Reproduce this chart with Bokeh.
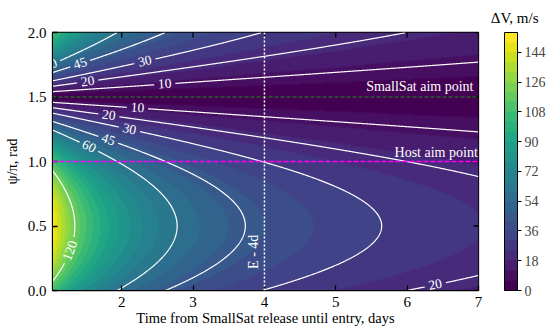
import numpy as np
import contourpy
from bokeh.plotting import figure
from bokeh.models import (ColorBar, FixedTicker, Span, Label, Range1d, Title,
                          LinearColorMapper, PrintfTickFormatter)
from bokeh.palettes import Viridis256
from bokeh.embed import file_html
from bokeh.resources import INLINE
from bokeh.core.properties import value

FONT = "Liberation Serif"

# ---------------- data ----------------
t_start, t_end = 1.03, 7.0          # days
psi_start, psi_end = 0.0, 2.0       # psi/pi
dv_scale = 172.0                    # m/s*day (from contour apexes at psi=0.5)
dv_t_offset = 0.09                  # day
smallsat_aim = 1.5
host_aim = 1.0
release_day = 4.0
fill_levels = list(range(0, 157, 6))
line_levels = [10, 20, 30, 45, 60, 120]
cbar_ticks = [0, 18, 36, 54, 72, 90, 108, 126, 144]
x_ticks = [2, 3, 4, 5, 6, 7]
y_ticks = [0.0, 0.5, 1.0, 1.5, 2.0]
label_levels = [60, 45, 30, 20, 10, 10, 20, 30, 45, 60, 120, 20]
label_t = [0.96, 1.41, 2.32, 1.52, 2.60, 2.22, 1.82, 2.11, 1.82, 1.54, 1.27, 6.39]
label_psi = [1.80, 1.78, 1.80, 1.64, 1.62, 1.43, 1.37, 1.26, 1.18, 1.12, 0.31, 0.057]

# ---------------- field ----------------
g_t0 = 0.9
nt, npsi = 700, 500
t_edges = np.linspace(g_t0, t_end, nt + 1)
p_edges = np.linspace(psi_start, psi_end, npsi + 1)
tc = 0.5 * (t_edges[1:] + t_edges[:-1])
pc = 0.5 * (p_edges[1:] + p_edges[:-1])
T, P = np.meshgrid(tc, pc)
DV = dv_scale * np.abs(np.sin((P - smallsat_aim) * np.pi / 2)) / (T + dv_t_offset)

nb = len(fill_levels) - 1
palette = [Viridis256[int(round(i * 255 / (nb - 1)))] for i in range(nb)]
mapper = LinearColorMapper(palette=palette, low=fill_levels[0], high=fill_levels[-1])

FW, FH = 426, 258
pxt = FW / (t_end - t_start)
pxp = FH / (psi_end - psi_start)

p = figure(frame_width=FW, frame_height=FH, output_backend="svg", toolbar_location=None,
           x_range=Range1d(t_start, t_end), y_range=Range1d(psi_start, psi_end),
           min_border_left=43, min_border_right=66, min_border_top=32, min_border_bottom=38)
p.grid.visible = False
p.outline_line_color = "black"
p.outline_line_width = 1.3
p.background_fill_color = None

p.image(image=[DV], x=g_t0, y=psi_start, dw=t_end - g_t0, dh=psi_end - psi_start,
        color_mapper=mapper)

# ---------------- contour lines with label gaps ----------------
gen = contourpy.contour_generator(T, P, DV, line_type="Separate")
lines_by_level = {lev: gen.lines(lev) for lev in line_levels}
cuts = {lev: [] for lev in line_levels}
lab_x, lab_y, lab_a, lab_txt = [], [], [], []
LFS = 13.5
for lev, lt, lp in zip(label_levels, label_t, label_psi):
    best = None
    for seg in lines_by_level[lev]:
        d = ((seg[:, 0] - lt) * pxt) ** 2 + ((seg[:, 1] - lp) * pxp) ** 2
        i = int(np.argmin(d))
        if best is None or d[i] < best[0]:
            best = (d[i], seg, i)
    _, seg, i = best
    x0, y0 = seg[i]
    j0, j1 = max(i - 4, 0), min(i + 4, len(seg) - 1)
    dx = (seg[j1, 0] - seg[j0, 0]) * pxt
    dy = (seg[j1, 1] - seg[j0, 1]) * pxp
    a = np.arctan2(dy, dx)
    if a > np.pi / 2:
        a -= np.pi
    if a < -np.pi / 2:
        a += np.pi
    txt = str(lev)
    r = len(txt) * 0.5 * LFS / 2 + 3.5
    cuts[lev].append((x0, y0, r))
    lab_x.append(x0); lab_y.append(y0); lab_a.append(a); lab_txt.append(txt)

mxs, mys = [], []
for lev in line_levels:
    for seg in lines_by_level[lev]:
        keep = np.ones(len(seg), bool)
        for (cx, cy, r) in cuts[lev]:
            d = np.hypot((seg[:, 0] - cx) * pxt, (seg[:, 1] - cy) * pxp)
            keep &= d > r
        idx = np.flatnonzero(keep)
        if len(idx) == 0:
            continue
        breaks = np.flatnonzero(np.diff(idx) > 1)
        starts = np.concatenate([[0], breaks + 1])
        ends = np.concatenate([breaks + 1, [len(idx)]])
        for s, e in zip(starts, ends):
            run = idx[s:e]
            if len(run) >= 2:
                mxs.append(seg[run, 0].tolist())
                mys.append(seg[run, 1].tolist())
p.multi_line(xs=mxs, ys=mys, line_color="white", line_width=1.2)
p.text(x=lab_x, y=lab_y, text=lab_txt, angle=lab_a, text_align="center",
       text_baseline="middle", text_color="white", text_font=value(FONT),
       text_font_size=f"{LFS}px")

# ---------------- reference lines and annotations ----------------
p.add_layout(Span(location=host_aim, dimension="width", line_color="#ff00ff",
                  line_dash="5 2", line_width=1.5))
p.add_layout(Span(location=smallsat_aim, dimension="width", line_color="#1f8a1f",
                  line_dash="4 2", line_width=1.1))
p.add_layout(Span(location=release_day, dimension="height", line_color="white",
                  line_dash="2 2", line_width=1.5))
p.add_layout(Label(x=6.93, y=smallsat_aim, y_offset=3, text="SmallSat aim point",
                   text_align="right", text_baseline="bottom", text_color="white",
                   text_font=FONT, text_font_size="14px"))
p.add_layout(Label(x=6.99, y=host_aim, y_offset=2, text="Host aim point",
                   text_align="right", text_baseline="bottom", text_color="white",
                   text_font=FONT, text_font_size="14px"))
p.add_layout(Label(x=3.85, y=0.30, text="E - 4d", angle=np.pi / 2,
                   text_align="center", text_baseline="middle", text_color="white",
                   text_font=FONT, text_font_size="14px"))

# ---------------- axes ----------------
xa = p.xaxis[0]
ya = p.yaxis[0]
xa.axis_label = "Time from SmallSat release until entry, days"
ya.axis_label = "ψ/π, rad"
for ax in (xa, ya):
    ax.major_tick_in = 5
    ax.major_tick_out = 0
    ax.minor_tick_line_color = None
    ax.axis_line_color = "black"
    ax.major_tick_line_color = "black"
    ax.major_tick_line_width = 1.3
    ax.major_label_text_font = FONT
    ax.major_label_text_font_size = "15px"
    ax.major_label_text_color = "black"
    ax.axis_label_text_font = FONT
    ax.axis_label_text_font_size = "14.5px"
    ax.axis_label_text_font_style = "normal"
    ax.axis_label_text_color = "black"
xa.ticker = FixedTicker(ticks=x_ticks)
ya.ticker = FixedTicker(ticks=y_ticks)
ya.formatter = PrintfTickFormatter(format="%.1f")
xa.major_label_standoff = 6
ya.major_label_standoff = 6
xa.axis_label_standoff = 0
ya.axis_label_standoff = 5

# inward ticks on the top and right frame edges
tick_len_t = 5 / pxt
tick_len_p = 5 / pxp
p.segment(x0=x_ticks, y0=[psi_end] * len(x_ticks), x1=x_ticks,
          y1=[psi_end - tick_len_p] * len(x_ticks), line_color="black", line_width=1.3)
p.segment(x0=[t_end] * len(y_ticks), y0=y_ticks, x1=[t_end - tick_len_t] * len(y_ticks),
          y1=y_ticks, line_color="black", line_width=1.3)

cb = ColorBar(color_mapper=mapper, ticker=FixedTicker(ticks=cbar_ticks),
              width=13, height=FH, padding=0, margin=0, location=(26, 0),
              major_label_text_font=FONT, major_label_text_font_size="14px",
              major_tick_in=0, major_tick_out=4, major_tick_line_color="black",
              label_standoff=3, bar_line_color="black", bar_line_width=1,
              border_line_color=None, background_fill_color=None)
p.add_layout(cb, "right")

cb_title = Title(text="ΔV, m/s", align="right", offset=-60, standoff=13,
                 text_font=FONT, text_font_size="15px", text_font_style="normal",
                 text_color="black")
p.add_layout(cb_title, "above")

open("out.html", "w").write(file_html(p, INLINE))
